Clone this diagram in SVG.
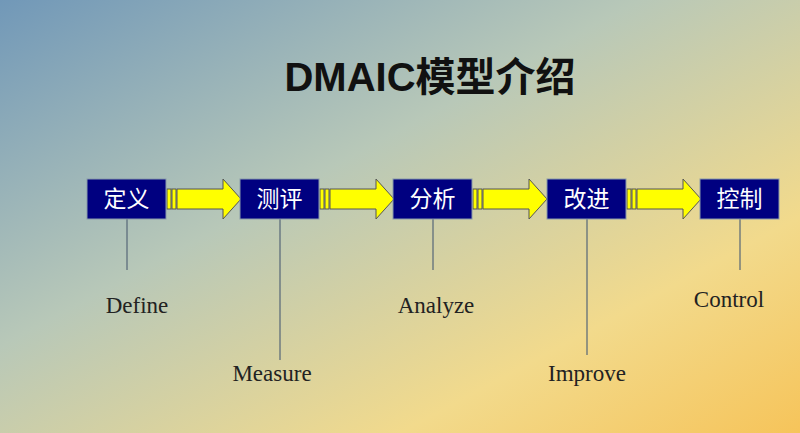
<svg xmlns="http://www.w3.org/2000/svg" width="800" height="433" viewBox="0 0 800 433">
<defs>
<linearGradient id="bg" x1="0" y1="0" x2="1" y2="1">
<stop offset="0" stop-color="#7198b8"/>
<stop offset="0.4" stop-color="#b8c8b8"/>
<stop offset="0.75" stop-color="#f2da8c"/>
<stop offset="1" stop-color="#f6c45a"/>
</linearGradient>
<g id="arr">
<rect x="0" y="189" width="4" height="20" fill="#ffff00" stroke="#555" stroke-width="1"/>
<rect x="5" y="189" width="4" height="20" fill="#ffff00" stroke="#555" stroke-width="1"/>
<path d="M10 189 H56 V179 L74 199 L56 219 V209 H10 Z" fill="#ffff00" stroke="#555" stroke-width="1"/>
</g>
</defs>
<style>
.box{fill:#000080;stroke:#8899aa;stroke-width:1}
.bt{fill:#fff;font-family:"Noto Sans CJK SC",sans-serif;font-size:23px;text-anchor:middle}
.lab{fill:#222;font-family:"Liberation Serif",serif;font-size:23px;text-anchor:middle}
.ln{stroke:#556677;stroke-width:1.2}
</style>
<rect width="800" height="433" fill="url(#bg)"/>
<text x="430" y="91" font-family="Liberation Sans, Noto Sans CJK SC, sans-serif" font-weight="bold" font-size="40" text-anchor="middle" fill="#111">DMAIC模型介绍</text>
<g id="connectors">
<use href="#arr" x="167"/>
<use href="#arr" x="320"/>
<use href="#arr" x="473"/>
<use href="#arr" x="627"/>
<line class="ln" x1="127" y1="219" x2="127" y2="270"/>
<line class="ln" x1="280" y1="219" x2="280" y2="360"/>
<line class="ln" x1="433" y1="219" x2="433" y2="270"/>
<line class="ln" x1="587" y1="219" x2="587" y2="355"/>
<line class="ln" x1="740" y1="219" x2="740" y2="270"/>
</g>
<g id="n1"><rect class="box" x="87" y="179" width="79" height="40"/><text class="bt" x="126.5" y="207">定义</text></g>
<g id="n2"><rect class="box" x="240" y="179" width="79" height="40"/><text class="bt" x="279.5" y="207">测评</text></g>
<g id="n3"><rect class="box" x="393" y="179" width="79" height="40"/><text class="bt" x="432.5" y="207">分析</text></g>
<g id="n4"><rect class="box" x="547" y="179" width="79" height="40"/><text class="bt" x="586.5" y="207">改进</text></g>
<g id="n5"><rect class="box" x="700" y="179" width="79" height="40"/><text class="bt" x="739.5" y="207">控制</text></g>
<text class="lab" x="137" y="313">Define</text>
<text class="lab" x="272" y="381">Measure</text>
<text class="lab" x="436" y="313">Analyze</text>
<text class="lab" x="587" y="381">Improve</text>
<text class="lab" x="729" y="307">Control</text>
</svg>
